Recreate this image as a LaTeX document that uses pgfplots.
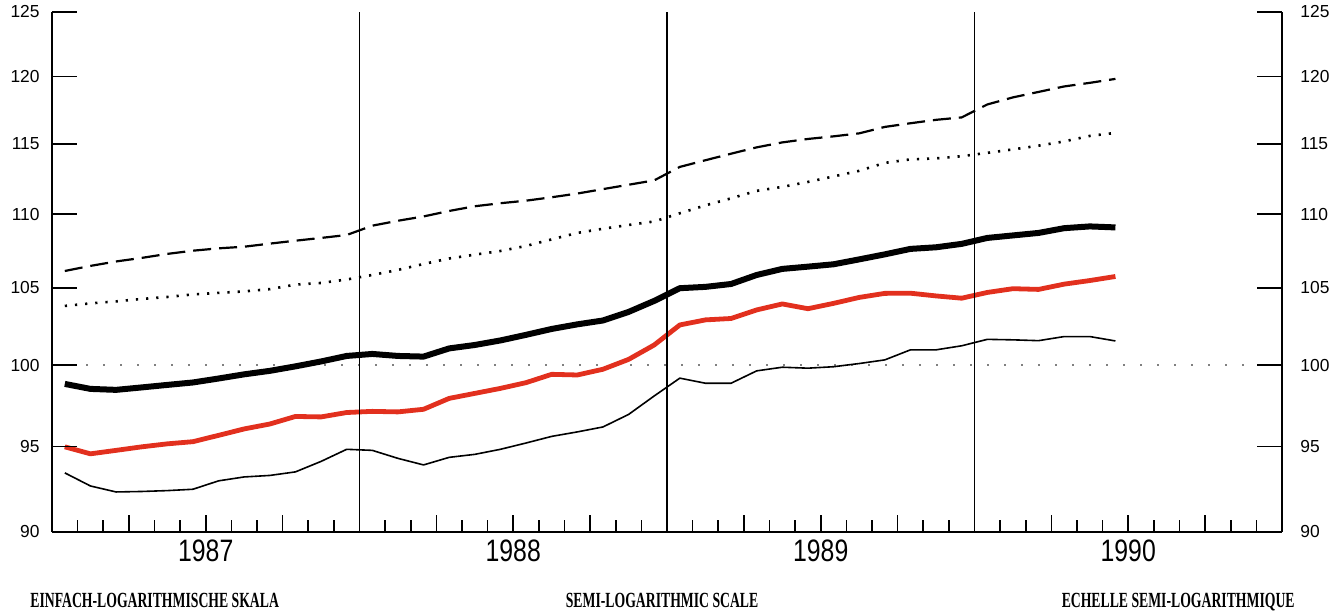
\documentclass[border=0pt]{standalone}
\usepackage{pgfplots}
\pgfplotsset{compat=1.18}
\usepackage{pgfplotstable}
\usepackage{fontspec}
\setmainfont{Liberation Sans}
\newfontfamily\capfont{Liberation Serif}
\definecolor{curvered}{RGB}{226,48,30}

% months since Jan 1987 (mid-month), five index series
\pgfplotstableread{
x    dash   dot    black  red    thin
0.5  106.13 103.81 98.82  94.97  93.42
1.5  106.47 103.98 98.51  94.55  92.65
2.5  106.77 104.11 98.45  94.76  92.30
3.5  107.01 104.27 98.60  94.97  92.33
4.5  107.28 104.40 98.76  95.15  92.38
5.5  107.50 104.57 98.91  95.28  92.46
6.5  107.66 104.67 99.16  95.66  92.95
7.5  107.77 104.77 99.42  96.05  93.18
8.5  107.98 104.92 99.64  96.35  93.27
9.5  108.18 105.22 99.92  96.81  93.48
10.5 108.37 105.33 100.23 96.78  94.10
11.5 108.57 105.56 100.58 97.05  94.82
12.5 109.21 105.86 100.71 97.12  94.76
13.5 109.55 106.20 100.58 97.09  94.28
14.5 109.85 106.60 100.54 97.25  93.89
15.5 110.23 106.97 101.06 97.92  94.34
16.5 110.56 107.23 101.28 98.23  94.52
17.5 110.77 107.48 101.57 98.54  94.82
18.5 110.95 107.82 101.93 98.90  95.20
19.5 111.19 108.27 102.31 99.42  95.60
20.5 111.45 108.71 102.61 99.38  95.87
21.5 111.76 109.00 102.86 99.74  96.17
22.5 112.07 109.26 103.42 100.36 96.93
23.5 112.38 109.50 104.14 101.28 98.07
24.5 113.34 110.07 104.98 102.57 99.18
25.5 113.82 110.62 105.07 102.90 98.86
26.5 114.29 111.11 105.26 102.99 98.86
27.5 114.75 111.64 105.86 103.55 99.64
28.5 115.11 111.92 106.27 103.94 99.87
29.5 115.36 112.27 106.42 103.63 99.81
30.5 115.55 112.66 106.58 103.98 99.90
31.5 115.77 113.06 106.91 104.37 100.10
32.5 116.24 113.63 107.25 104.64 100.33
33.5 116.51 113.88 107.62 104.65 100.97
34.5 116.76 113.95 107.73 104.47 100.97
35.5 116.94 114.11 107.96 104.32 101.23
36.5 117.90 114.35 108.37 104.70 101.64
37.5 118.43 114.60 108.54 104.95 101.61
38.5 118.84 114.87 108.71 104.90 101.56
39.5 119.25 115.18 109.04 105.25 101.82
40.5 119.52 115.58 109.16 105.49 101.82
41.5 119.82 115.80 109.09 105.76 101.54
}\data

\begin{document}
\begin{tikzpicture}
\useasboundingbox (-26pt,-40pt) rectangle (644.5pt,266pt);
\begin{axis}[
    scale only axis, width=615pt, height=260pt,
    xmin=0, xmax=48, ymin=90, ymax=125, ymode=log,
    axis x line*=bottom, axis y line*=box,
    axis line style={line width=0.8pt, -},
    xtick={3,6,9,15,18,21,27,30,33,39,42,45},
    xticklabels={},
    minor xtick={1,2,4,5,7,8,10,11,13,14,16,17,19,20,22,23,25,26,28,29,31,32,34,35,37,38,40,41,43,44,46,47},
    major tick length=8.5pt, minor tick length=6pt,
    tick align=inside,
    tick style={black, line width=0.8pt},
    ytick={90,95,100,105,110,115,120,125},
    yticklabels={90,95,100,105,110,115,120,125},
    ytick style={draw=none},
    yticklabel style={font=\fontsize{8.7}{10}\selectfont, inner sep=0pt, xshift=-6pt},
    clip=false,
]
% 100 reference line
\addplot[gray, line width=0.9pt, dash pattern=on 0.9pt off 7.6pt] coordinates {(0,100) (48,100)};

\addplot[black, line width=1.1pt, dash pattern=on 9pt off 4pt] table[x=x, y=dash]{\data};
\addplot[black, line width=1.3pt, dash pattern=on 1.1pt off 4pt] table[x=x, y=dot]{\data};
\addplot[black, line width=3pt, line join=round] table[x=x, y=black]{\data};
\addplot[curvered, line width=2.4pt, line join=round] table[x=x, y=red]{\data};
\addplot[black, line width=0.8pt, line join=round] table[x=x, y=thin]{\data};

% year separators
\draw[black, line width=0.55pt] (axis cs:12,90) -- (axis cs:12,125);
\draw[black, line width=0.55pt] (axis cs:24,90) -- (axis cs:24,125);
\draw[black, line width=0.55pt] (axis cs:36,90) -- (axis cs:36,125);

% y ticks on both sides, labels on the right
\pgfplotsinvokeforeach{95,100,105,110,115,120,125}{
  \draw[line width=0.8pt] (axis cs:0,#1) -- ++(12.5pt,0pt);
  \draw[line width=0.8pt] (axis cs:48,#1) -- ++(-12.5pt,0pt);
  \node[anchor=west, inner sep=0pt, xshift=9pt, font=\fontsize{8.7}{10}\selectfont] at (axis cs:48,#1) {#1};
}
\node[anchor=west, inner sep=0pt, xshift=9pt, font=\fontsize{8.7}{10}\selectfont] at (axis cs:48,90) {90};

% years
\node[anchor=north, inner sep=0pt, yshift=-4pt, font=\fontsize{15.5}{16}\selectfont] at (axis cs:6,90) {\scalebox{0.8}[1]{1987}};
\node[anchor=north, inner sep=0pt, yshift=-4pt, font=\fontsize{15.5}{16}\selectfont] at (axis cs:18,90) {\scalebox{0.8}[1]{1988}};
\node[anchor=north, inner sep=0pt, yshift=-4pt, font=\fontsize{15.5}{16}\selectfont] at (axis cs:30,90) {\scalebox{0.8}[1]{1989}};
\node[anchor=north, inner sep=0pt, yshift=-4pt, font=\fontsize{15.5}{16}\selectfont] at (axis cs:42,90) {\scalebox{0.8}[1]{1990}};

% scale captions
\node[anchor=north west, inner sep=0pt, xshift=-11pt, yshift=-30.5pt, font=\capfont\bfseries\fontsize{10.8}{12}\selectfont] at (rel axis cs:0,0) {\scalebox{0.635}[1]{EINFACH-LOGARITHMISCHE SKALA}};
\node[anchor=north, inner sep=0pt, yshift=-30.5pt, font=\capfont\bfseries\fontsize{10.8}{12}\selectfont] at (rel axis cs:0.496,0) {\scalebox{0.635}[1]{SEMI-LOGARITHMIC SCALE}};
\node[anchor=north east, inner sep=0pt, xshift=6.5pt, yshift=-30.5pt, font=\capfont\bfseries\fontsize{10.8}{12}\selectfont] at (rel axis cs:1,0) {\scalebox{0.635}[1]{ECHELLE SEMI-LOGARITHMIQUE}};
\end{axis}
\end{tikzpicture}
\end{document}
